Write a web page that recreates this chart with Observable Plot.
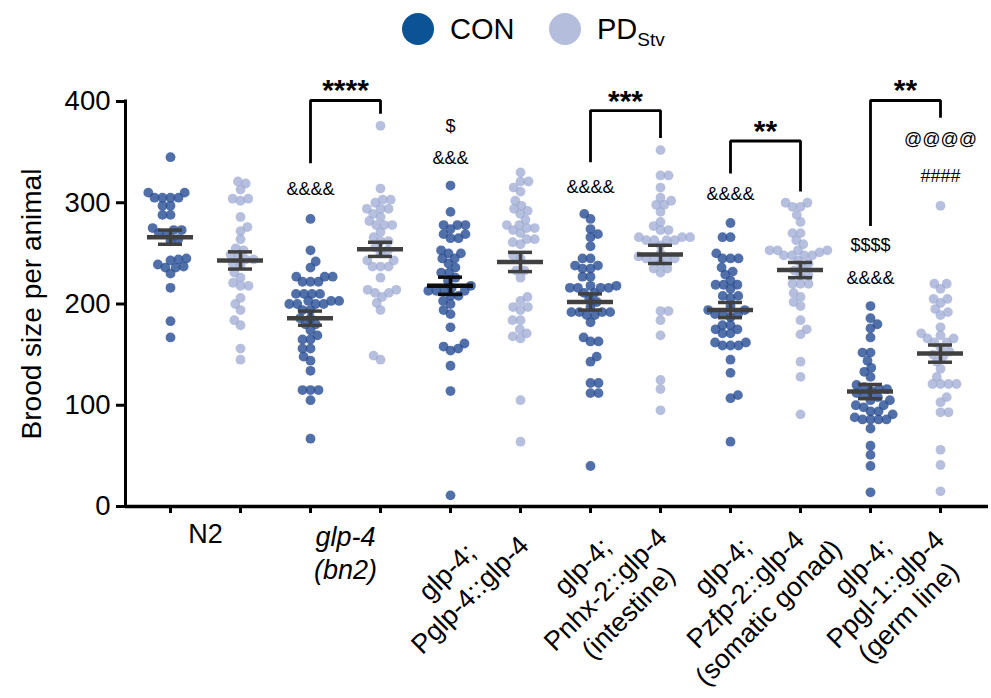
<!DOCTYPE html>
<html>
<head>
<meta charset="utf-8">
<script src="https://cdn.jsdelivr.net/npm/d3@7"></script>
<script src="https://cdn.jsdelivr.net/npm/@observablehq/plot@0.6"></script>
<style>
  html, body { margin: 0; padding: 0; background: #fff; }
  body { font-family: "Liberation Sans", Arial, Helvetica, sans-serif; width: 991px; }
  #legend { position: relative; width: 991px; height: 58px; }
  .lg { position: absolute; display: flex; align-items: center; height: 32px; top: 13px; }
  .sw { width: 32px; height: 32px; border-radius: 50%; margin-right: 16px; }
  .lt { font-size: 29px; color: #000; line-height: 1; }
  .lt sub { font-size: 19px; vertical-align: -7px; line-height: 0; }
  #chart svg { display: block; overflow: visible; }
</style>
</head>
<body>
<div id="legend"></div>
<div id="chart"></div>
<script>
// ---------------- data ----------------
const strains = ["N2", "glp-4 (bn2)", "glp-4; Pglp-4::glp-4", "glp-4; Pnhx-2::glp-4 (intestine)",
                 "glp-4; Pzfp-2::glp-4 (somatic gonad)", "glp-4; Ppgl-1::glp-4 (germ line)"];
const conditions = ["CON", "PD_Stv"];

const n2Con    = [345, 310, 310, 305, 305, 305, 305, 297, 297, 288, 288, 275, 273, 273, 270, 269, 264, 262, 245, 244, 243, 239, 237, 236, 236, 230, 216, 183, 167];
const n2Pd     = [321, 319, 313, 304, 304, 302, 286, 276, 272, 264, 255, 253, 249, 247, 244, 244, 240, 238, 231, 226, 221, 218, 218, 206, 200, 194, 184, 179, 156, 145];
const glp4Con  = [284, 253, 242, 236, 227, 227, 227, 222, 222, 222, 210, 210, 210, 210, 203, 203, 203, 200, 200, 200, 200, 194, 194, 186, 186, 180, 180, 174, 169, 165, 165, 156, 156, 148, 144, 134, 115, 115, 115, 105, 67];
const glp4Pd   = [376, 314, 303, 303, 300, 294, 294, 294, 289, 286, 282, 278, 278, 278, 271, 266, 262, 262, 256, 253, 250, 243, 243, 237, 237, 237, 226, 214, 214, 211, 211, 207, 201, 194, 149, 145];
const pglp4Con = [317, 291, 278, 278, 278, 274, 269, 269, 265, 265, 253, 250, 250, 245, 245, 240, 236, 231, 231, 226, 223, 218, 216, 213, 213, 213, 213, 208, 208, 203, 200, 194, 190, 177, 161, 158, 156, 154, 139, 114, 11];
const pglp4Pd  = [330, 321, 321, 315, 311, 302, 297, 294, 292, 289, 283, 278, 278, 275, 275, 273, 270, 264, 264, 261, 259, 248, 245, 233, 233, 226, 207, 203, 197, 197, 194, 184, 184, 175, 171, 168, 166, 105, 64];
const pnhx2Con = [289, 284, 274, 269, 266, 257, 245, 245, 238, 238, 235, 235, 227, 227, 218, 218, 216, 216, 216, 216, 211, 211, 205, 202, 197, 192, 192, 192, 192, 189, 189, 182, 167, 163, 163, 148, 143, 122, 122, 112, 112, 40];
const pnhx2Pd  = [352, 327, 327, 315, 305, 302, 298, 298, 291, 281, 277, 273, 273, 266, 266, 266, 263, 263, 263, 263, 258, 250, 247, 245, 245, 245, 245, 240, 235, 235, 231, 193, 193, 184, 169, 125, 116, 95];
const pzfp2Con = [280, 266, 266, 250, 245, 245, 245, 236, 232, 229, 223, 219, 219, 219, 215, 208, 208, 206, 198, 194, 194, 190, 190, 190, 187, 179, 179, 175, 175, 171, 171, 162, 162, 159, 159, 159, 145, 132, 110, 107, 64];
const pzfp2Pd  = [300, 300, 296, 296, 288, 281, 270, 270, 263, 259, 253, 253, 253, 253, 251, 248, 248, 248, 248, 243, 240, 236, 233, 228, 228, 220, 220, 220, 211, 207, 202, 198, 184, 175, 170, 143, 128, 91];
const ppgl1Con = [198, 186, 180, 176, 167, 152, 152, 144, 137, 133, 128, 120, 118, 116, 116, 114, 112, 110, 108, 105, 105, 100, 100, 98, 94, 94, 91, 88, 86, 86, 86, 86, 77, 60, 51, 40, 14];
const ppgl1Pd  = [297, 220, 220, 215, 205, 205, 201, 195, 192, 189, 177, 171, 169, 166, 166, 162, 162, 157, 153, 150, 148, 143, 136, 128, 121, 121, 121, 121, 108, 103, 93, 93, 56, 41, 15];

// mean and SEM per group (order: strain × condition)
const groupMeans = [266, 243, 186, 254, 218, 241.5, 202, 249, 194, 233.5, 113.5, 151];
const groupSems  = [7, 8.5, 7, 7, 8.5, 9.5, 8, 9, 7.5, 7.5, 7, 8.5];

const yTicks = [0, 100, 200, 300, 400];

// significance brackets: CON vs PD within a strain
const bracketStrain = [1, 3, 4, 5];
const bracketLabel  = ["****", "***", "**", "**"];
const bracketTop    = [401, 391, 361, 401];
const bracketLeftEnd  = [339, 340, 329, 277];
const bracketRightEnd = [388, 364, 311, 384];

// symbol annotations above groups
const noteGroup = [2, 4, 4, 6, 8, 10, 10, 11, 11];
const noteText  = ["&&&&", "$", "&&&", "&&&&", "&&&&", "$$$$", "&&&&", "@@@@", "####"];
const noteY     = [313, 376, 344, 315, 308, 258, 225, 363, 326];

// ---------------- layout ----------------
const W = 991, H = 640;
const mL = 125, mR = 3, mT = 43, mB = 192;
const STEP = 70, X0 = 170;            // pixel spacing between groups, first group position
const xDomain = [(mL - X0) / STEP, (W - mR - X0) / STEP];
const pxPerUnit = (H - mB - mT) / 400;

const conFill = "#2b4f95", pdFill = "#9aa7d1";
const groupValues = [n2Con, n2Pd, glp4Con, glp4Pd, pglp4Con, pglp4Pd, pnhx2Con, pnhx2Pd, pzfp2Con, pzfp2Pd, ppgl1Con, ppgl1Pd];

// beeswarm in pixel space
function swarm(values, d) {
  const pts = values.map(v => ({v, y: v * pxPerUnit, x: 0}));
  const order = pts.slice().sort((a, b) => a.y - b.y);
  const placed = [];
  let flip = 1;
  for (const p of order) {
    const near = placed.filter(q => Math.abs(q.y - p.y) < d);
    const cands = [0];
    for (const q of near) {
      const dx = Math.sqrt(d * d - (q.y - p.y) ** 2);
      cands.push(q.x + dx, q.x - dx);
    }
    cands.sort((a, b) => Math.abs(a) - Math.abs(b) || (flip * (b - a)));
    for (const c of cands) {
      if (near.every(q => (q.x - c) ** 2 + (q.y - p.y) ** 2 >= d * d - 1e-6)) { p.x = c; break; }
    }
    flip = -flip;
    placed.push(p);
  }
  return pts;
}

const points = groupValues.flatMap((vals, gi) =>
  swarm(vals, 8).map(p => ({gi, v: p.v, xp: gi + p.x / STEP, fill: gi % 2 === 0 ? conFill : pdFill, op: gi % 2 === 0 ? 0.82 : 0.72})));

const stats = groupMeans.map((m, gi) => ({gi, mean: m, lo: m - groupSems[gi], hi: m + groupSems[gi],
  color: gi === 4 ? "#0d0d0d" : "#404040"}));

const brackets = bracketStrain.flatMap((s, i) => {
  const l = 2 * s, r = 2 * s + 1;
  return [
    {id: i, x: l, y: bracketLeftEnd[i]},
    {id: i, x: l, y: bracketTop[i]},
    {id: i, x: r, y: bracketTop[i]},
    {id: i, x: r, y: bracketRightEnd[i]}
  ];
});
const starLabels = bracketStrain.map((s, i) => ({x: 2 * s + 0.5, y: bracketTop[i], t: bracketLabel[i]}));
const notes = noteGroup.map((g, i) => ({x: g, y: noteY[i], t: noteText[i]}));

const rot2 = [{x: 4.5, t: "glp-4;\nPglp-4::glp-4"}];
const rot3 = [
  {x: 6.5, t: "glp-4;\nPnhx-2::glp-4\n(intestine)"},
  {x: 8.5, t: "glp-4;\nPzfp-2::glp-4\n(somatic gonad)"},
  {x: 10.5, t: "glp-4;\nPpgl-1::glp-4\n(germ line)"}
];

// ---------------- legend ----------------
document.getElementById("legend").innerHTML =
  `<div class="lg" style="left:402px"><div class="sw" style="background:#0b5394"></div><div class="lt">CON</div></div>` +
  `<div class="lg" style="left:549px"><div class="sw" style="background:#b4bedc"></div><div class="lt">PD<sub>Stv</sub></div></div>`;

// ---------------- plot ----------------
const chart = Plot.plot({
  width: W, height: H,
  marginLeft: mL, marginRight: mR, marginTop: mT, marginBottom: mB,
  x: {type: "linear", domain: xDomain, axis: null},
  y: {domain: [0, 400], axis: null},
  color: {type: "identity"},
  style: {fontFamily: '"Liberation Sans", Arial, Helvetica, sans-serif', color: "#000", background: "#fff", overflow: "visible"},
  marks: [
    // axes
    Plot.axisY({ticks: yTicks, tickSize: 9, tickPadding: 6, fontSize: 27.5, strokeWidth: 3, tickFormat: d => String(d), label: null}),
    Plot.axisX({ticks: d3.range(12), tickSize: 7, strokeWidth: 3, tickFormat: () => "", label: null}),
    Plot.ruleX([xDomain[0]], {y1: 0, y2: 400, stroke: "#000", strokeWidth: 3, strokeLinecap: "square"}),
    Plot.ruleY([0], {x1: xDomain[0], x2: xDomain[1], stroke: "#000", strokeWidth: 3.5}),
    // dots
    Plot.dot(points, {x: "xp", y: "v", r: 4.9, fill: "fill", fillOpacity: "op", stroke: null}),
    // mean ± SEM
    Plot.ruleY(stats, {y: "mean", x1: d => d.gi - 23 / STEP, x2: d => d.gi + 23 / STEP, stroke: "color", strokeWidth: 4.5}),
    Plot.ruleX(stats, {x: "gi", y1: "lo", y2: "hi", stroke: "color", strokeWidth: 3.5}),
    Plot.ruleY(stats, {y: "lo", x1: d => d.gi - 12 / STEP, x2: d => d.gi + 12 / STEP, stroke: "color", strokeWidth: 3.5}),
    Plot.ruleY(stats, {y: "hi", x1: d => d.gi - 12 / STEP, x2: d => d.gi + 12 / STEP, stroke: "color", strokeWidth: 3.5}),
    // brackets
    Plot.line(brackets, {x: "x", y: "y", z: "id", stroke: "#000", strokeWidth: 2.8, strokeLinejoin: "miter", strokeLinecap: "butt"}),
    Plot.text(starLabels, {x: "x", y: "y", text: "t", fontSize: 30, fontWeight: "bold", lineAnchor: "bottom", dy: 0}),
    Plot.text(notes, {x: "x", y: "y", text: "t", fontSize: 18}),
    // y label
    Plot.text(["Brood size per animal"], {frameAnchor: "left", text: d => d, textAnchor: "middle", dx: -93, rotate: -90, fontSize: 28}),
    // x labels
    Plot.text([{x: 0.5, t: "N2"}], {x: "x", text: "t", frameAnchor: "bottom", textAnchor: "middle", lineAnchor: "top", dy: 17, fontSize: 27}),
    Plot.text([{x: 2.5, t: "glp-4\n(bn2)"}], {x: "x", text: "t", frameAnchor: "bottom", textAnchor: "middle", lineAnchor: "top", dy: 16, fontSize: 27, fontStyle: "italic", lineHeight: 1.22}),
    Plot.text(rot2, {x: "x", text: "t", frameAnchor: "bottom", textAnchor: "middle", lineAnchor: "middle", rotate: -45, dx: -28, dy: 76, fontSize: 27, lineHeight: 1.2}),
    Plot.text(rot3, {x: "x", text: "t", frameAnchor: "bottom", textAnchor: "middle", lineAnchor: "middle", rotate: -45, dx: -21, dy: 82, fontSize: 27, lineHeight: 1.2})
  ]
});
document.getElementById("chart").appendChild(chart);
</script>
</body>
</html>
